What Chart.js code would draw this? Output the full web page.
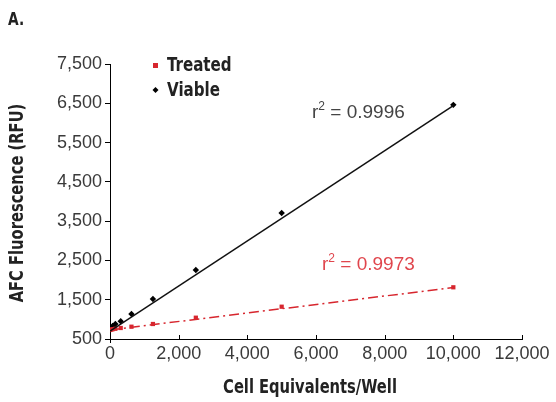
<!DOCTYPE html>
<html>
<head>
<meta charset="utf-8">
<script src="https://cdn.jsdelivr.net/npm/chart.js@4.4.1/dist/chart.umd.min.js"></script>
<style>
  html, body { margin: 0; padding: 0; background: #fff; }
  #wrap { width: 556px; height: 402px; position: relative; }
</style>
</head>
<body>
<div id="wrap"><canvas id="myChart" width="556" height="402"></canvas></div>
<script>
// cell equivalents per well (2-fold dilutions)
let cells = [0, 39, 78, 156, 312, 625, 1250, 2500, 5000, 10000];
let viable = [740, 780, 830, 880, 950, 1136, 1518, 2256, 3707, 6460];
let treated = [730, 740, 750, 760, 780, 813, 882, 1042, 1322, 1816];

// linear fits (ends of line)
let fitX = [0, 10000];
let viableFit = [700, 6440];
let treatedFit = [730, 1810];

let xTicks = [0, 2000, 4000, 6000, 8000, 10000, 12000];
let yTicks = [500, 1500, 2500, 3500, 4500, 5500, 6500, 7500];

const RED = "#d7262e";
const sans = "'Liberation Sans', Arial, Helvetica, sans-serif";
const narrow = "'DejaVu Sans Condensed', 'DejaVu Sans', sans-serif";

function pts(xs, ys) {
  return xs.map((x, i) => ({ x: x, y: ys[i] }));
}

// condensed text: draw squeezed horizontally
function squeezed(ctx, text, x, y, sx, rot) {
  ctx.save();
  ctx.translate(x, y);
  if (rot) ctx.rotate(rot);
  ctx.scale(sx, 1);
  ctx.fillText(text, 0, 0);
  ctx.restore();
}

const extras = {
  id: "extras",
  afterDraw(chart) {
    const ctx = chart.ctx;
    const xs = chart.scales.x;
    const ys = chart.scales.y;
    ctx.save();
    // inward x ticks, and the y axis poking below the x axis
    ctx.strokeStyle = "#000";
    ctx.lineWidth = 1;
    xTicks.forEach((v) => {
      const px = Math.round(xs.getPixelForValue(v)) + 0.5;
      ctx.beginPath();
      ctx.moveTo(px, ys.bottom);
      ctx.lineTo(px, ys.bottom - 4);
      ctx.stroke();
    });
    ctx.beginPath();
    ctx.moveTo(Math.round(xs.left) + 0.5, ys.bottom);
    ctx.lineTo(Math.round(xs.left) + 0.5, ys.bottom + 4);
    ctx.stroke();

    ctx.fillStyle = "#222";
    ctx.textBaseline = "middle";

    // axis titles
    ctx.textAlign = "center";
    ctx.font = "bold 19px " + narrow;
    squeezed(ctx, "Cell Equivalents/Well", (xs.left + xs.right) / 2 - 6, 388, 0.86);
    squeezed(ctx, "AFC Fluorescence (RFU)", 18, 203, 0.86, -Math.PI / 2);

    // panel label
    ctx.textAlign = "left";
    ctx.font = "bold 18px " + narrow;
    squeezed(ctx, "A.", 8, 20, 0.85);

    // legend
    ctx.font = "bold 20px " + narrow;
    ctx.fillStyle = RED;
    ctx.fillRect(153, 63, 5, 5);
    ctx.fillStyle = "#222";
    squeezed(ctx, "Treated", 167, 66, 0.84);
    ctx.fillStyle = "#000";
    ctx.beginPath();
    ctx.moveTo(155.5, 87);
    ctx.lineTo(158.5, 90);
    ctx.lineTo(155.5, 93);
    ctx.lineTo(152.5, 90);
    ctx.closePath();
    ctx.fill();
    ctx.fillStyle = "#222";
    squeezed(ctx, "Viable", 167, 91, 0.84);

    // r-squared labels
    function r2(x, y, val, col) {
      ctx.fillStyle = col;
      ctx.font = "19px " + sans;
      ctx.fillText("r", x, y);
      let w = ctx.measureText("r").width;
      ctx.font = "12px " + sans;
      ctx.fillText("2", x + w, y - 6);
      w += ctx.measureText("2").width;
      ctx.font = "19px " + sans;
      ctx.fillText(" = " + val, x + w, y);
    }
    r2(312, 113, "0.9996", "#444");
    r2(322, 265, "0.9973", "#e0464d");
    ctx.restore();
  },
};

new Chart("myChart", {
  type: "scatter",
  data: {
    datasets: [
      {
        label: "Viable fit",
        data: pts(fitX, viableFit),
        showLine: true,
        borderColor: "#111",
        borderWidth: 1.5,
        pointRadius: 0,
      },
      {
        label: "Treated fit",
        data: pts(fitX, treatedFit),
        showLine: true,
        borderColor: RED,
        borderWidth: 1.5,
        borderDash: [10, 4, 2, 4],
        pointRadius: 0,
      },
      {
        label: "Treated",
        data: pts(cells, treated),
        pointStyle: "rect",
        pointRadius: 3,
        backgroundColor: RED,
        borderColor: RED,
        borderWidth: 0,
      },
      {
        label: "Viable",
        data: pts(cells, viable),
        pointStyle: "rectRot",
        pointRadius: 3.2,
        backgroundColor: "#000",
        borderColor: "#000",
        borderWidth: 0,
      },
    ],
  },
  options: {
    responsive: false,
    animation: false,
    layout: { padding: { left: 0, right: 34, top: 64, bottom: 0 } },
    plugins: {
      legend: { display: false },
      tooltip: { enabled: false },
    },
    scales: {
      x: {
        type: "linear",
        min: 0,
        max: 12000,
        afterBuildTicks: (s) => { s.ticks = xTicks.map((v) => ({ value: v })); },
        afterFit: (s) => { s.height = 63; },
        border: { color: "#000", width: 1 },
        grid: { display: false, drawTicks: false },
        ticks: {
          color: "#3a3a3a",
          padding: 4,
          maxRotation: 0,
          font: { family: sans, size: 18 },
          callback: (v) => v.toLocaleString("en-US"),
        },
      },
      y: {
        type: "linear",
        min: 500,
        max: 7500,
        afterBuildTicks: (s) => { s.ticks = yTicks.map((v) => ({ value: v })); },
        afterFit: (s) => { s.width = 110; },
        border: { color: "#000", width: 1 },
        grid: { drawOnChartArea: false, drawTicks: true, tickLength: 5, color: "#000" },
        ticks: {
          color: "#3a3a3a",
          padding: 3,
          font: { family: sans, size: 18 },
          callback: (v) => v.toLocaleString("en-US"),
        },
      },
    },
  },
  plugins: [extras],
});
</script>
</body>
</html>
